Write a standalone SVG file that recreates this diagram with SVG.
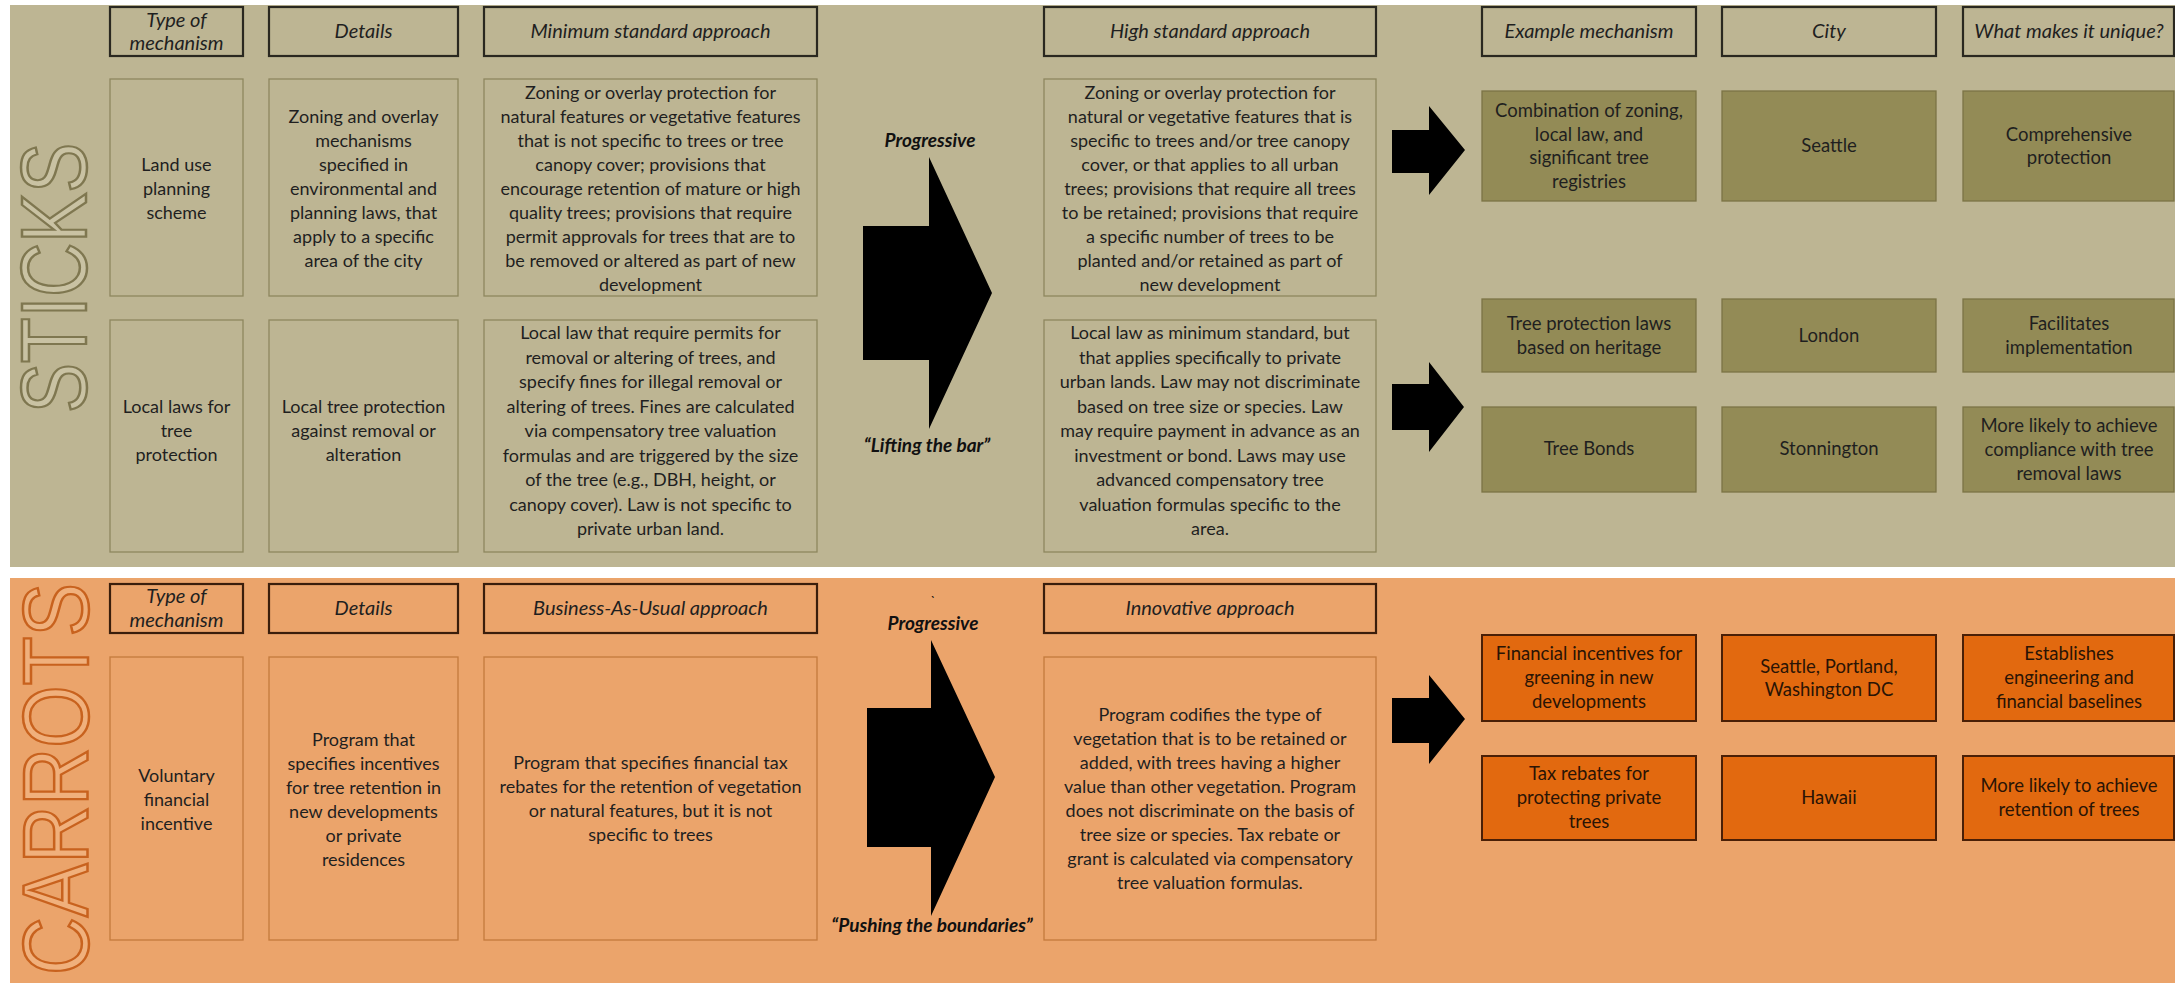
<svg xmlns="http://www.w3.org/2000/svg" width="2175" height="983" viewBox="0 0 2175 983">
<style>
.bgS{fill:#bdb593}
.bgC{fill:#eba46b}
.hdr{fill:none;stroke:#2a2820;stroke-width:2.2}
.hdrC{fill:none;stroke:#3a1e0c;stroke-width:2.2}
.cell{fill:none;stroke:#8e875f;stroke-width:1.3}
.cellC{fill:none;stroke:#c47a3c;stroke-width:1.3}
.ex{fill:#938b56;stroke:#7c7446;stroke-width:1.3}
.exC{fill:#e2690f;stroke:#4a1f06;stroke-width:2}
text{font-family:Lato,"Liberation Sans",sans-serif;fill:#1f1f1f;text-anchor:middle}
.t{font-size:18px}
.h{font-size:20px;font-style:italic}
.r{font-size:18.5px}
.rc{font-size:18.5px;fill:#2a1405}
.p{font-size:19px;font-weight:bold;font-style:italic;fill:#111}
.big{font-family:"Liberation Sans",Arial,sans-serif;font-size:92px;font-weight:400;text-anchor:middle;stroke-width:2.5}
.arr{fill:#000}
</style>
<rect x="0" y="0" width="2175" height="983" fill="#ffffff"/>
<rect class="bgS" x="10" y="5" width="2165" height="562"/>
<rect class="bgC" x="10" y="578" width="2165" height="405"/>

<g id="title-sticks">
<text class="big" transform="translate(86,278) rotate(-90)" stroke="#7f7750" style="fill:#c9c2a3" textLength="270" lengthAdjust="spacingAndGlyphs">STICKS</text>
</g>
<g id="title-carrots">
<text class="big" transform="translate(88,779) rotate(-90)" stroke="#c8621e" style="fill:#f0b07c" textLength="392" lengthAdjust="spacingAndGlyphs">CARROTS</text>
</g>

<!-- STICKS headers -->
<g id="s-h-type"><rect class="hdr" x="110" y="7" width="133" height="49"/><text class="h" x="176.5" y="27">Type of</text><text class="h" x="176.5" y="50">mechanism</text></g>
<g id="s-h-details"><rect class="hdr" x="269" y="7" width="189" height="49"/><text class="h" x="363.5" y="38">Details</text></g>
<g id="s-h-min"><rect class="hdr" x="484" y="7" width="333" height="49"/><text class="h" x="650.5" y="38">Minimum standard approach</text></g>
<g id="s-h-high"><rect class="hdr" x="1044" y="7" width="332" height="49"/><text class="h" x="1210" y="38">High standard approach</text></g>
<g id="s-h-example"><rect class="hdr" x="1482" y="7" width="214" height="49"/><text class="h" x="1589" y="38">Example mechanism</text></g>
<g id="s-h-city"><rect class="hdr" x="1722" y="7" width="214" height="49"/><text class="h" x="1829" y="38">City</text></g>
<g id="s-h-unique"><rect class="hdr" x="1963" y="7" width="211" height="49"/><text class="h" x="2069" y="38">What makes it unique?</text></g>

<!-- STICKS row 1 -->
<g id="s-r1-type"><rect class="cell" x="110" y="79" width="133" height="217"/>
<text class="t" x="176.5" y="171">Land use</text><text class="t" x="176.5" y="195">planning</text><text class="t" x="176.5" y="219">scheme</text></g>
<g id="s-r1-details"><rect class="cell" x="269" y="79" width="189" height="217"/>
<text class="t" x="363.5" y="123">Zoning and overlay</text><text class="t" x="363.5" y="147">mechanisms</text><text class="t" x="363.5" y="171">specified in</text><text class="t" x="363.5" y="195">environmental and</text><text class="t" x="363.5" y="219">planning laws, that</text><text class="t" x="363.5" y="243">apply to a specific</text><text class="t" x="363.5" y="267">area of the city</text></g>
<g id="s-r1-min"><rect class="cell" x="484" y="79" width="333" height="217"/>
<text class="t" x="650.5" y="99">Zoning or overlay protection for</text>
<text class="t" x="650.5" y="123">natural features or vegetative features</text>
<text class="t" x="650.5" y="147">that is not specific to trees or tree</text>
<text class="t" x="650.5" y="171">canopy cover; provisions that</text>
<text class="t" x="650.5" y="195">encourage retention of mature or high</text>
<text class="t" x="650.5" y="219">quality trees; provisions that require</text>
<text class="t" x="650.5" y="243">permit approvals for trees that are to</text>
<text class="t" x="650.5" y="267">be removed or altered as part of new</text>
<text class="t" x="650.5" y="291">development</text></g>
<g id="s-r1-high"><rect class="cell" x="1044" y="79" width="332" height="217"/>
<text class="t" x="1210" y="99">Zoning or overlay protection for</text>
<text class="t" x="1210" y="123">natural or vegetative features that is</text>
<text class="t" x="1210" y="147">specific to trees and/or tree canopy</text>
<text class="t" x="1210" y="171">cover, or that applies to all urban</text>
<text class="t" x="1210" y="195">trees; provisions that require all trees</text>
<text class="t" x="1210" y="219">to be retained; provisions that require</text>
<text class="t" x="1210" y="243">a specific number of trees to be</text>
<text class="t" x="1210" y="267">planted and/or retained as part of</text>
<text class="t" x="1210" y="291">new development</text></g>

<!-- STICKS row 2 -->
<g id="s-r2-type"><rect class="cell" x="110" y="320" width="133" height="232"/>
<text class="t" x="176.5" y="413">Local laws for</text><text class="t" x="176.5" y="437">tree</text><text class="t" x="176.5" y="461">protection</text></g>
<g id="s-r2-details"><rect class="cell" x="269" y="320" width="189" height="232"/>
<text class="t" x="363.5" y="413">Local tree protection</text><text class="t" x="363.5" y="437">against removal or</text><text class="t" x="363.5" y="461">alteration</text></g>
<g id="s-r2-min"><rect class="cell" x="484" y="320" width="333" height="232"/>
<text class="t" x="650.5" y="339">Local law that require permits for</text>
<text class="t" x="650.5" y="363.5">removal or altering of trees, and</text>
<text class="t" x="650.5" y="388">specify fines for illegal removal or</text>
<text class="t" x="650.5" y="412.5">altering of trees. Fines are calculated</text>
<text class="t" x="650.5" y="437">via compensatory tree valuation</text>
<text class="t" x="650.5" y="461.5">formulas and are triggered by the size</text>
<text class="t" x="650.5" y="486">of the tree (e.g., DBH, height, or</text>
<text class="t" x="650.5" y="510.5">canopy cover). Law is not specific to</text>
<text class="t" x="650.5" y="535">private urban land.</text></g>
<g id="s-r2-high"><rect class="cell" x="1044" y="320" width="332" height="232"/>
<text class="t" x="1210" y="339">Local law as minimum standard, but</text>
<text class="t" x="1210" y="363.5">that applies specifically to private</text>
<text class="t" x="1210" y="388">urban lands. Law may not discriminate</text>
<text class="t" x="1210" y="412.5">based on tree size or species. Law</text>
<text class="t" x="1210" y="437">may require payment in advance as an</text>
<text class="t" x="1210" y="461.5">investment or bond. Laws may use</text>
<text class="t" x="1210" y="486">advanced compensatory tree</text>
<text class="t" x="1210" y="510.5">valuation formulas specific to the</text>
<text class="t" x="1210" y="535">area.</text></g>

<!-- STICKS examples -->
<g id="s-ex1"><rect class="ex" x="1482" y="91" width="214" height="110"/>
<text class="r" x="1589" y="117">Combination of zoning,</text><text class="r" x="1589" y="141">local law, and</text><text class="r" x="1589" y="164">significant tree</text><text class="r" x="1589" y="188">registries</text></g>
<g id="s-city1"><rect class="ex" x="1722" y="91" width="214" height="110"/><text class="r" x="1829" y="152">Seattle</text></g>
<g id="s-u1"><rect class="ex" x="1963" y="91" width="211" height="110"/><text class="r" x="2069" y="141">Comprehensive</text><text class="r" x="2069" y="164">protection</text></g>

<g id="s-ex2"><rect class="ex" x="1482" y="299" width="214" height="73"/>
<text class="r" x="1589" y="330">Tree protection laws</text><text class="r" x="1589" y="354">based on heritage</text></g>
<g id="s-city2"><rect class="ex" x="1722" y="299" width="214" height="73"/><text class="r" x="1829" y="342">London</text></g>
<g id="s-u2"><rect class="ex" x="1963" y="299" width="211" height="73"/><text class="r" x="2069" y="330">Facilitates</text><text class="r" x="2069" y="354">implementation</text></g>

<g id="s-ex3"><rect class="ex" x="1482" y="407" width="214" height="85"/><text class="r" x="1589" y="455">Tree Bonds</text></g>
<g id="s-city3"><rect class="ex" x="1722" y="407" width="214" height="85"/><text class="r" x="1829" y="455">Stonnington</text></g>
<g id="s-u3"><rect class="ex" x="1963" y="407" width="211" height="85"/>
<text class="r" x="2069" y="432">More likely to achieve</text><text class="r" x="2069" y="456">compliance with tree</text><text class="r" x="2069" y="480">removal laws</text></g>

<!-- CARROTS headers -->
<g id="c-h-type"><rect class="hdrC" x="110" y="584" width="133" height="49"/><text class="h" x="176.5" y="603">Type of</text><text class="h" x="176.5" y="627">mechanism</text></g>
<g id="c-h-details"><rect class="hdrC" x="269" y="584" width="189" height="49"/><text class="h" x="363.5" y="615">Details</text></g>
<g id="c-h-bau"><rect class="hdrC" x="484" y="584" width="333" height="49"/><text class="h" x="650.5" y="615">Business-As-Usual approach</text></g>
<g id="c-h-innov"><rect class="hdrC" x="1044" y="584" width="332" height="49"/><text class="h" x="1210" y="615">Innovative approach</text></g>

<!-- CARROTS row -->
<g id="c-r-type"><rect class="cellC" x="110" y="657" width="133" height="283"/>
<text class="t" x="176.5" y="782">Voluntary</text><text class="t" x="176.5" y="806">financial</text><text class="t" x="176.5" y="830">incentive</text></g>
<g id="c-r-details"><rect class="cellC" x="269" y="657" width="189" height="283"/>
<text class="t" x="363.5" y="746">Program that</text><text class="t" x="363.5" y="770">specifies incentives</text><text class="t" x="363.5" y="794">for tree retention in</text><text class="t" x="363.5" y="818">new developments</text><text class="t" x="363.5" y="842">or private</text><text class="t" x="363.5" y="866">residences</text></g>
<g id="c-r-bau"><rect class="cellC" x="484" y="657" width="333" height="283"/>
<text class="t" x="650.5" y="769">Program that specifies financial tax</text>
<text class="t" x="650.5" y="793">rebates for the retention of vegetation</text>
<text class="t" x="650.5" y="817">or natural features, but it is not</text>
<text class="t" x="650.5" y="841">specific to trees</text></g>
<g id="c-r-innov"><rect class="cellC" x="1044" y="657" width="332" height="283"/>
<text class="t" x="1210" y="721">Program codifies the type of</text>
<text class="t" x="1210" y="745">vegetation that is to be retained or</text>
<text class="t" x="1210" y="769">added, with trees having a higher</text>
<text class="t" x="1210" y="793">value than other vegetation. Program</text>
<text class="t" x="1210" y="817">does not discriminate on the basis of</text>
<text class="t" x="1210" y="841">tree size or species. Tax rebate or</text>
<text class="t" x="1210" y="865">grant is calculated via compensatory</text>
<text class="t" x="1210" y="889">tree valuation formulas.</text></g>

<!-- CARROTS examples -->
<g id="c-ex1"><rect class="exC" x="1482" y="635" width="214" height="86"/>
<text class="rc" x="1589" y="660">Financial incentives for</text><text class="rc" x="1589" y="684">greening in new</text><text class="rc" x="1589" y="708">developments</text></g>
<g id="c-city1"><rect class="exC" x="1722" y="635" width="214" height="86"/>
<text class="rc" x="1829" y="673">Seattle, Portland,</text><text class="rc" x="1829" y="696">Washington DC</text></g>
<g id="c-u1"><rect class="exC" x="1963" y="635" width="211" height="86"/>
<text class="rc" x="2069" y="660">Establishes</text><text class="rc" x="2069" y="684">engineering and</text><text class="rc" x="2069" y="708">financial baselines</text></g>
<g id="c-ex2"><rect class="exC" x="1482" y="756" width="214" height="84"/>
<text class="rc" x="1589" y="780">Tax rebates for</text><text class="rc" x="1589" y="804">protecting private</text><text class="rc" x="1589" y="828">trees</text></g>
<g id="c-city2"><rect class="exC" x="1722" y="756" width="214" height="84"/><text class="rc" x="1829" y="804">Hawaii</text></g>
<g id="c-u2"><rect class="exC" x="1963" y="756" width="211" height="84"/>
<text class="rc" x="2069" y="792">More likely to achieve</text><text class="rc" x="2069" y="816">retention of trees</text></g>

<!-- connectors: block arrows -->
<g id="connectors">
<polygon class="arr" points="863,226 929,226 929,157 992,293 929,429 929,360 863,360"/>
<polygon class="arr" points="867,708 931,708 931,640 995,777 931,916 931,847 867,847"/>
<polygon class="arr" points="1392,130 1429,130 1429,106 1465,150 1429,195 1429,173 1392,173"/>
<polygon class="arr" points="1392,384 1429,384 1429,362 1464,407 1429,452 1429,430 1392,430"/>
<polygon class="arr" points="1392,698 1429,698 1429,675 1465,719 1429,764 1429,743 1392,743"/>
</g>
<g id="labels">
<text class="p" x="930" y="147">Progressive</text>
<text class="p" x="927" y="452">“Lifting the bar”</text>
<text class="p" x="932" y="606" style="font-weight:normal;font-size:14px">`</text>
<text class="p" x="933" y="630">Progressive</text>
<text class="p" x="932" y="932">“Pushing the boundaries”</text>
</g>
</svg>
